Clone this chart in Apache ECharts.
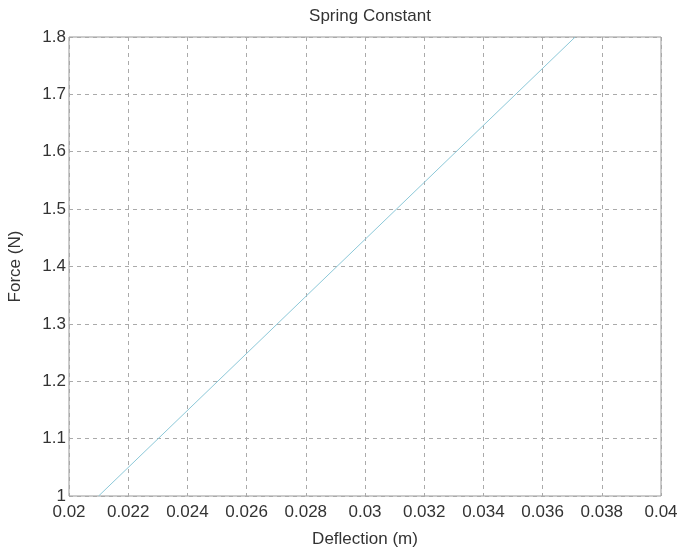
<!DOCTYPE html>
<html>
<head>
<meta charset="utf-8">
<script src="https://cdn.jsdelivr.net/npm/echarts@6/dist/echarts.min.js"></script>
<style>
  html, body { margin: 0; padding: 0; background: #fff; }
  #chart { width: 679px; height: 547px; }
</style>
</head>
<body>
<div id="chart"></div>
<script>
// Measured deflection (m) and applied force (N)
const deflection = [0.021, 0.0371];
const force = [1.0, 1.8];

const xTicks = [0.02, 0.022, 0.024, 0.026, 0.028, 0.03, 0.032, 0.034, 0.036, 0.038, 0.04];
const yTicks = [1, 1.1, 1.2, 1.3, 1.4, 1.5, 1.6, 1.7, 1.8];

const font = 'Liberation Sans, Arial, sans-serif';
const textColor = '#333';
const chart = echarts.init(document.getElementById('chart'));

chart.setOption({
  backgroundColor: '#fff',
  animation: false,
  title: {
    text: 'Spring Constant',
    left: 365,
    textAlign: 'center',
    top: 3,
    textStyle: { fontFamily: font, fontSize: 17, fontWeight: 'normal', color: textColor }
  },
  grid: {
    left: 69, right: 18, top: 37, bottom: 51,
    outerBoundsMode: 'none',
    show: true, borderColor: '#999', borderWidth: 1
  },
  xAxis: {
    type: 'value',
    min: xTicks[0], max: xTicks[xTicks.length - 1], interval: 0.002,
    name: 'Deflection (m)', nameLocation: 'middle', nameGap: 35,
    nameTextStyle: { fontFamily: font, fontSize: 17, color: textColor },
    axisLine: { show: false },
    axisTick: { show: false },
    axisLabel: {
      fontFamily: font, fontSize: 17, color: textColor, margin: 8,
      formatter: v => String(parseFloat(v.toFixed(4)))
    },
    splitLine: { show: true, lineStyle: { type: [4, 4], color: '#aaa', width: 1 } }
  },
  yAxis: {
    type: 'value',
    min: yTicks[0], max: yTicks[yTicks.length - 1], interval: 0.1,
    name: 'Force (N)', nameLocation: 'middle', nameGap: 45,
    nameTextStyle: { fontFamily: font, fontSize: 17, color: textColor },
    axisLine: { show: false },
    axisTick: { show: false },
    axisLabel: {
      fontFamily: font, fontSize: 17, color: textColor, margin: 3,
      formatter: v => String(parseFloat(v.toFixed(2)))
    },
    splitLine: { show: true, lineStyle: { type: [4, 4], color: '#aaa', width: 1 } }
  },
  series: [{
    type: 'line',
    data: deflection.map((d, i) => [d, force[i]]),
    symbol: 'none',
    lineStyle: { color: '#8cc8d8', width: 1 }
  }]
});
</script>
</body>
</html>
